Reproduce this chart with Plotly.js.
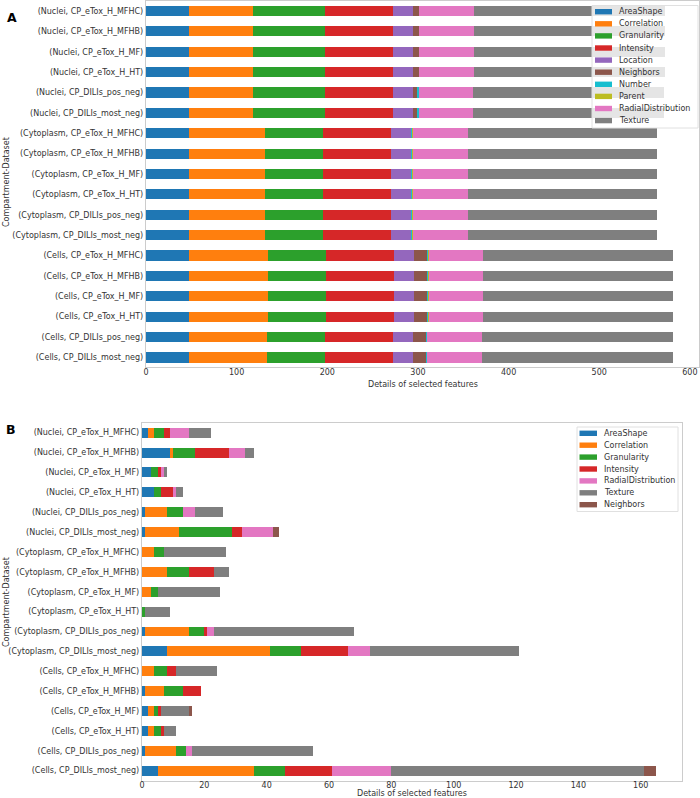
<!DOCTYPE html>
<html><head><meta charset="utf-8">
<script src="https://cdn.plot.ly/plotly-3.0.1.min.js"></script>
<style>html,body{margin:0;padding:0;background:#fff}#chart{width:700px;height:798px}</style>
</head><body><div id="chart"></div>
<script>
// ---------- categories ----------
const rows = [
  "(Nuclei, CP_eTox_H_MFHC)", "(Nuclei, CP_eTox_H_MFHB)", "(Nuclei, CP_eTox_H_MF)", "(Nuclei, CP_eTox_H_HT)",
  "(Nuclei, CP_DILIs_pos_neg)", "(Nuclei, CP_DILIs_most_neg)",
  "(Cytoplasm, CP_eTox_H_MFHC)", "(Cytoplasm, CP_eTox_H_MFHB)", "(Cytoplasm, CP_eTox_H_MF)", "(Cytoplasm, CP_eTox_H_HT)",
  "(Cytoplasm, CP_DILIs_pos_neg)", "(Cytoplasm, CP_DILIs_most_neg)",
  "(Cells, CP_eTox_H_MFHC)", "(Cells, CP_eTox_H_MFHB)", "(Cells, CP_eTox_H_MF)", "(Cells, CP_eTox_H_HT)",
  "(Cells, CP_DILIs_pos_neg)", "(Cells, CP_DILIs_most_neg)"
];

// ---------- panel A series ----------
const featuresA = ["AreaShape","Correlation","Granularity","Intensity","Location","Neighbors","Number","Parent","RadialDistribution","Texture"];
const A_AreaShape   = [47,47,47,47,47,47, 47,47,47,47,47,47, 47,47,47,47,47,47];
const A_Correlation = [71,71,71,71,71,71, 84,84,84,84,84,84, 88,88,88,88,87,87];
const A_Granularity = [80,80,80,80,80,80, 64,64,64,64,64,64, 64,64,64,64,64,64];
const A_Intensity   = [75,75,75,75,75,75, 75,75,75,75,75,75, 75,75,75,75,75,75];
const A_Location    = [22,22,22,22,22,22, 22,22,22,22,22,22, 22,22,22,22,22,22];
const A_Neighbors   = [6,6,6,6,4,4, 0,0,0,0,0,0, 14,14,14,14,14,14];
const A_Number      = [0,0,0,0,2,2, 1,1,1,1,1,1, 1,1,1,1,1,1];
const A_Parent      = [0,0,0,0,0,0, 1,1,1,1,1,1, 1,1,1,1,0,0];
const A_Radial      = [61,61,61,61,60,60, 61,61,61,61,61,61, 60,60,60,60,61,61];
const A_Texture     = [210,210,210,210,210,210, 209,209,209,209,209,209, 209,209,209,209,210,210];
const seriesA = [A_AreaShape,A_Correlation,A_Granularity,A_Intensity,A_Location,A_Neighbors,A_Number,A_Parent,A_Radial,A_Texture];
const xTicksA = [0,100,200,300,400,500,600];

// ---------- panel B series ----------
const featuresB = ["AreaShape","Correlation","Granularity","Intensity","RadialDistribution","Texture","Neighbors"];
const B_AreaShape   = [2,9,3,4,1,1, 0,0,0,0,1,8, 0,1,2,2,1,5];
const B_Correlation = [2,1,0,0,7,11, 4,8,3,0,14,33, 4,6,2,2,10,31];
const B_Granularity = [3,7,2,2,5,17, 3,7,2,1,5,10, 4,6,1,2,3,10];
const B_Intensity   = [2,11,1,4,0,3, 0,8,0,0,1,15, 3,6,1,1,0,15];
const B_Radial      = [6,5,1,1,4,10, 0,0,0,0,2,7, 0,0,0,0,2,19];
const B_Texture     = [7,3,1,2,9,0, 20,5,20,8,45,48, 13,0,9,4,39,81];
const B_Neighbors   = [0,0,0,0,0,2, 0,0,0,0,0,0, 0,0,1,0,0,4];
const seriesB = [B_AreaShape,B_Correlation,B_Granularity,B_Intensity,B_Radial,B_Texture,B_Neighbors];
const xTicksB = [0,20,40,60,80,100,120,140,160];

const featureColors = {
  AreaShape:"#1f77b4", Correlation:"#ff7f0e", Granularity:"#2ca02c", Intensity:"#d62728",
  Location:"#9467bd", Neighbors:"#8c564b", Number:"#17becf", Parent:"#bcbd22",
  RadialDistribution:"#e377c2", Texture:"#7f7f7f"
};

// ---------- layout helpers (pixel -> paper) ----------
const W = 700, H = 798;
const px = x => x / W;
const py = y => 1 - y / H;
const FONT = "DejaVu Sans";
const TXT = "#333333";

const traces = [];
featuresA.forEach((f, i) => traces.push({
  type: "bar", orientation: "h", name: f, x: seriesA[i], y: rows, width: 0.5,
  marker: {color: featureColors[f]}, xaxis: "x", yaxis: "y", showlegend: false
}));
featuresB.forEach((f, i) => traces.push({
  type: "bar", orientation: "h", name: f, x: seriesB[i], y: rows, width: 0.5,
  marker: {color: featureColors[f]}, xaxis: "x2", yaxis: "y2", showlegend: false
}));

function totalMax(series) {
  let m = 0;
  for (let r = 0; r < rows.length; r++) { let s = 0; series.forEach(a => s += a[r]); m = Math.max(m, s); }
  return m;
}

const axCommon = {showline: true, mirror: true, linecolor: "#cccccc", linewidth: 1.2, showgrid: false, zeroline: false,
  ticks: "", tickfont: {family: FONT, size: 8, color: TXT}, fixedrange: true};
const yCommon = Object.assign({}, axCommon, {type: "category", categoryorder: "array", categoryarray: rows,
  tickfont: {family: FONT, size: 8, color: TXT}});

const shapes = [], annotations = [];
function legend(names, box, firstY, step, swX0, swX1, txtX) {
  shapes.push({type: "rect", xref: "paper", yref: "paper", x0: px(box[0]), x1: px(box[1]), y0: py(box[2]), y1: py(box[3]),
    fillcolor: "rgba(255,255,255,0.8)", line: {color: "#e0e0e0", width: 1}, layer: "above"});
  names.forEach((n, i) => {
    const yc = firstY + i * step;
    shapes.push({type: "rect", xref: "paper", yref: "paper", x0: px(swX0), x1: px(swX1), y0: py(yc + 2.7), y1: py(yc - 2.7),
      fillcolor: featureColors[n], line: {width: 0}, layer: "above"});
    annotations.push({xref: "paper", yref: "paper", x: px(txtX), y: py(yc), text: n, showarrow: false,
      xanchor: "left", yanchor: "middle", font: {family: FONT, size: 8, color: TXT}});
  });
}
legend(featuresA, [592, 698, 5.5, 128], 11.7, 12.1, 595, 612, 617);
legend(featuresB, [577, 678, 427, 511.5], 433.3, 11.9, 579.5, 597, 602);

function text(x, y, t, opts) {
  annotations.push(Object.assign({xref: "paper", yref: "paper", x: px(x), y: py(y), text: t, showarrow: false,
    xanchor: "center", yanchor: "middle", font: {family: FONT, size: 8, color: TXT}}, opts || {}));
}
text(12, 17.5, "<b>A</b>", {font: {family: FONT, size: 12.5, color: "#000"}});
text(11, 429, "<b>B</b>", {font: {family: FONT, size: 12.5, color: "#000"}});
text(6, 182, "Compartment-Dataset", {textangle: -90});
text(6, 602, "Compartment-Dataset", {textangle: -90});
text(422.5, 384, "Details of selected features");
text(412, 793.5, "Details of selected features");

const layout = {
  width: W, height: H, margin: {l: 0, r: 0, t: 0, b: 0}, paper_bgcolor: "#fff", plot_bgcolor: "#fff",
  barmode: "stack", bargap: 0.5, showlegend: false,
  xaxis: Object.assign({}, axCommon, {domain: [px(146), px(699)], range: [0, totalMax(seriesA) * 1.05],
    tickvals: xTicksA, anchor: "y", ticklabelstandoff: -3}),
  yaxis: Object.assign({}, yCommon, {domain: [py(367), py(1)], range: [17.47, -0.49], anchor: "x"}),
  xaxis2: Object.assign({}, axCommon, {domain: [px(142), px(682)], range: [0, totalMax(seriesB) * 1.05],
    tickvals: xTicksB, anchor: "y2", ticklabelstandoff: -4}),
  yaxis2: Object.assign({}, yCommon, {domain: [py(781), py(422.7)], range: [17.52, -0.5], anchor: "x2"}),
  shapes: shapes, annotations: annotations
};
Plotly.newPlot("chart", traces, layout, {displayModeBar: false, staticPlot: true});
</script></body></html>
